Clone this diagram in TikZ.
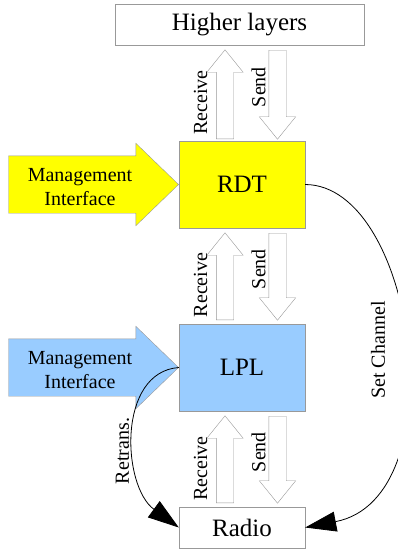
\documentclass[tikz,border=0pt]{standalone}
\usepackage{fontspec}
\setmainfont{Liberation Serif}
\usetikzlibrary{shapes.arrows,arrows.meta}

\definecolor{rdtyellow}{HTML}{FFFF00}
\definecolor{lplblue}{HTML}{99CCFF}
\definecolor{edge}{HTML}{999999}

\begin{document}
\begin{tikzpicture}
  [x=1pt,y=-1pt,
   layer/.style={rectangle,draw=edge,minimum width=126pt,minimum height=87pt,
                 font=\fontsize{25}{29}\selectfont},
   flow/.style={single arrow,draw=edge,fill=white,inner sep=8.5pt,
                single arrow head extend=9.5pt,
                single arrow tip angle=78,minimum height=87pt,anchor=tail},
   up/.style={flow,shape border rotate=90},
   down/.style={flow,shape border rotate=270},
   mgmt/.style={single arrow,draw=edge,inner sep=28.5pt,
                single arrow head extend=12.5pt,single arrow tip angle=88,
                minimum height=170pt,anchor=tip},
   lbl/.style={inner sep=0pt,font=\fontsize{20}{24.5}\selectfont},
   vlbl/.style={lbl,rotate=90},
   ctrl/.style={-{Triangle[length=31pt,width=20pt]},line width=0.8pt}]
  \useasboundingbox (0,0) rectangle (398,552);

  \node[layer,minimum width=249pt,minimum height=41pt] (higher) at (239.5,24.5) {Higher layers};
  \node[layer,fill=rdtyellow] (rdt)   at (242,184.5) {RDT};
  \node[layer,fill=lplblue]   (lpl)   at (242,367.5) {LPL};
  \node[layer,minimum height=41pt] (radio) at (242,527.5) {Radio};

  % management arrows
  \node[mgmt,fill=rdtyellow] (mgmtrdt) at (rdt.west) {};
  \node[lbl,align=center] (mgmtrdttxt) at (80,187) {Management\\Interface};
  \node[mgmt,fill=lplblue] (mgmtlpl) at (lpl.west) {};
  \node[lbl,align=center] (mgmtlpltxt) at (80,370) {Management\\Interface};

  % receive / send between layers
  \node[up,minimum height=89pt]   (recvtop) at (225,139) {};
  \node[down,minimum height=89pt] (sendtop) at (277.5,50) {};
  \node[vlbl] (recvtoptxt) at (200.5,102.5) {Receive};
  \node[vlbl] (sendtoptxt) at (258.5,87) {Send};

  \node[up]   (recvmid) at (225,320) {};
  \node[down] (sendmid) at (277.5,233) {};
  \node[vlbl] (recvmidtxt) at (200.5,285) {Receive};
  \node[vlbl] (sendmidtxt) at (258.5,269) {Send};

  \node[up]   (recvbot) at (225,503) {};
  \node[down] (sendbot) at (277.5,416) {};
  \node[vlbl] (recvbottxt) at (200.5,468.5) {Receive};
  \node[vlbl] (sendbottxt) at (258.5,452) {Send};

  % control paths
  \draw[ctrl] (rdt.east) .. controls (416,185) and (458,498) .. (radio.east);
  \node[vlbl] (setch) at (378,350) {Set Channel};
  \draw[ctrl] (lpl.west) .. controls (117,372) and (122,486) .. (radio.west);
  \node[vlbl] (retrans) at (122.5,451) {Retrans.};
\end{tikzpicture}
\end{document}
